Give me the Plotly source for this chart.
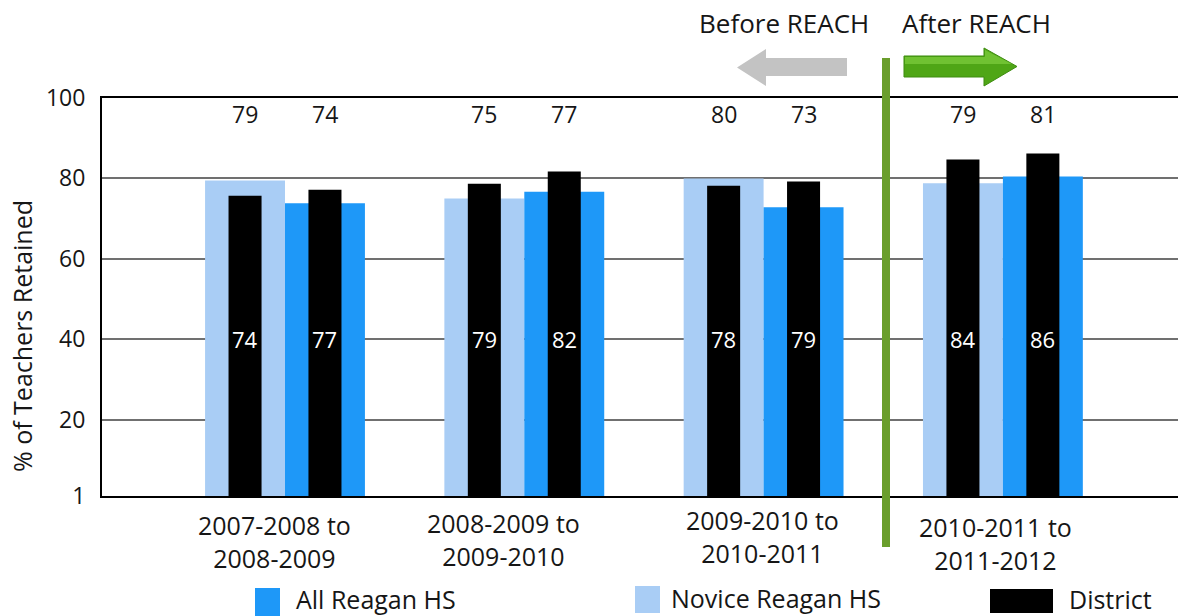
import plotly.graph_objects as go

# ---------------- data ----------------
categories = ["2007-2008 to<br>2008-2009", "2008-2009 to<br>2009-2010",
              "2009-2010 to<br>2010-2011", "2010-2011 to<br>2011-2012"]
novice_values = [79.5, 75.0, 80.0, 78.8]
novice_labels = ["79", "75", "80", "79"]
all_values = [73.8, 76.7, 72.8, 80.5]
all_labels = ["74", "77", "73", "81"]
# District: two bars per period (one over Novice, one over All)
district_values = [75.7, 77.2, 78.7, 81.7, 78.2, 79.2, 84.7, 86.2]
district_labels = ["74", "77", "79", "82", "78", "79", "84", "86"]
y_ticks = [1, 20, 40, 60, 80, 100]
y_tick_labels = ["1", "20", "40", "60", "80", "100"]

# ---------------- style ----------------
W, H = 1178, 616
L, R, T, B = 102, 1178, 98, 496
FONT = "Open Sans"
TXT = "#161616"
C_ALL = "#1E98F8"
C_NOV = "#A9CDF5"
C_DIS = "#000000"


def px(x):
    return (x - L) / (R - L)


def py(y):
    return (B - y) / (B - T)


idx = list(range(len(categories)))
off = 0.167
wide = 0.334
narrow = 0.138

nov_x = [i - off for i in idx]
all_x = [i + off for i in idx]
dis_x = []
for i in idx:
    dis_x += [i - off, i + off]

fig = go.Figure()
fig.add_trace(go.Bar(x=nov_x, y=novice_values, width=wide, marker_color=C_NOV,
                     marker_line_width=0, name="Novice Reagan HS"))
fig.add_trace(go.Bar(x=all_x, y=all_values, width=wide, marker_color=C_ALL,
                     marker_line_width=0, name="All Reagan HS"))
fig.add_trace(go.Bar(x=dis_x, y=district_values, width=narrow, marker_color=C_DIS,
                     marker_line_width=0, name="District"))

ann = []
# top labels for wide bars
for xv, t in zip(nov_x + all_x, novice_labels + all_labels):
    ann.append(dict(x=xv, y=96, xref="x", yref="y", text=t, showarrow=False,
                    xanchor="center", yanchor="middle",
                    font=dict(family=FONT, size=23, color=TXT)))
# inside labels for district bars
for xv, t in zip(dis_x, district_labels):
    ann.append(dict(x=xv, y=40, xref="x", yref="y", text=t, showarrow=False,
                    xanchor="center", yanchor="middle",
                    font=dict(family=FONT, size=22, color="white")))
# category labels
cat_pos = [-0.042, 0.915, 1.997, 2.967]
cat_y = [541, 539, 536, 543]
for xv, yv, t in zip(cat_pos, cat_y, categories):
    ann.append(dict(x=xv, y=py(yv), xref="x", yref="paper", text=t, showarrow=False,
                    xanchor="center", yanchor="middle",
                    font=dict(family=FONT, size=25, color=TXT), align="center"))
# y title
ann.append(dict(x=px(22), y=py(336), xref="paper", yref="paper",
                text="% of Teachers Retained", textangle=-90, showarrow=False,
                xanchor="center", yanchor="middle",
                font=dict(family=FONT, size=25, color=TXT)))
# before / after
ann.append(dict(x=px(784), y=py(23), xref="paper", yref="paper", text="Before REACH",
                xanchor="center", yanchor="middle",
                showarrow=False, font=dict(family=FONT, size=26, color=TXT)))
ann.append(dict(x=px(976), y=py(23), xref="paper", yref="paper", text="After REACH",
                xanchor="center", yanchor="middle",
                showarrow=False, font=dict(family=FONT, size=26, color=TXT)))
# legend text
for xl, yl, t in [(294, 599, "All Reagan HS"), (669, 598, "Novice Reagan HS"),
                  (1067, 599, "District")]:
    ann.append(dict(x=px(xl), y=py(yl), xref="paper", yref="paper", text=t,
                    xanchor="left", yanchor="middle", showarrow=False,
                    font=dict(family=FONT, size=25, color=TXT)))

shapes = []
# green divider
shapes.append(dict(type="line", xref="paper", yref="paper", x0=px(886), x1=px(886),
                   y0=py(58), y1=py(547), line=dict(color="#6A9E2C", width=8)))


def poly(pts):
    s = "M " + " L ".join(f"{px(a):.5f},{py(b):.5f}" for a, b in pts) + " Z"
    return s


gray_arrow = [(737, 67.5), (766, 49), (766, 58), (847, 58), (847, 76), (766, 76), (766, 86)]
shapes.append(dict(type="path", xref="paper", yref="paper", path=poly(gray_arrow),
                   fillcolor="#C3C3C3", line=dict(width=0)))
green_arrow = [(904, 56), (984, 56), (984, 48), (1017, 66.5), (984, 86), (984, 77), (904, 77)]
shapes.append(dict(type="path", xref="paper", yref="paper", path=poly(green_arrow),
                   fillcolor="#4FA616", line=dict(color="#3E8C10", width=1)))
hl = [(905, 57), (985, 57), (985, 50), (1012, 64), (905, 64)]
shapes.append(dict(type="path", xref="paper", yref="paper", path=poly(hl),
                   fillcolor="#7FCF3E", opacity=0.7, line=dict(width=0)))
# legend swatches
shapes.append(dict(type="rect", xref="paper", yref="paper", x0=px(255), x1=px(280),
                   y0=py(588), y1=py(618), fillcolor=C_ALL, line=dict(width=0)))
shapes.append(dict(type="rect", xref="paper", yref="paper", x0=px(635), x1=px(660),
                   y0=py(586), y1=py(613), fillcolor=C_NOV, line=dict(width=0)))
shapes.append(dict(type="rect", xref="paper", yref="paper", x0=px(990), x1=px(1053),
                   y0=py(589), y1=py(613), fillcolor=C_DIS, line=dict(width=0)))

px_per_unit = 239.3
fig.update_layout(
    width=W, height=H,
    margin=dict(l=L, r=W - R, t=T, b=H - B, pad=0),
    paper_bgcolor="white", plot_bgcolor="white",
    barmode="overlay", showlegend=False,
    annotations=ann, shapes=shapes,
    xaxis=dict(range=[(L - 285) / px_per_unit, (R - 285) / px_per_unit],
               showticklabels=False, showgrid=False, zeroline=False,
               showline=True, mirror=True, linecolor="black", linewidth=2, ticks=""),
    yaxis=dict(range=[1, 100], tickvals=y_ticks, ticktext=y_tick_labels,
               showgrid=True, gridcolor="#707070", gridwidth=1.5, zeroline=False,
               showline=True, linecolor="black", linewidth=2, ticks="",
               ticklabelstandoff=10,
               tickfont=dict(family=FONT, size=23, color=TXT)),
)

fig.write_html("out.html", config={"displayModeBar": False},
               post_script="document.body.style.margin='0';document.body.style.overflow='hidden';")
